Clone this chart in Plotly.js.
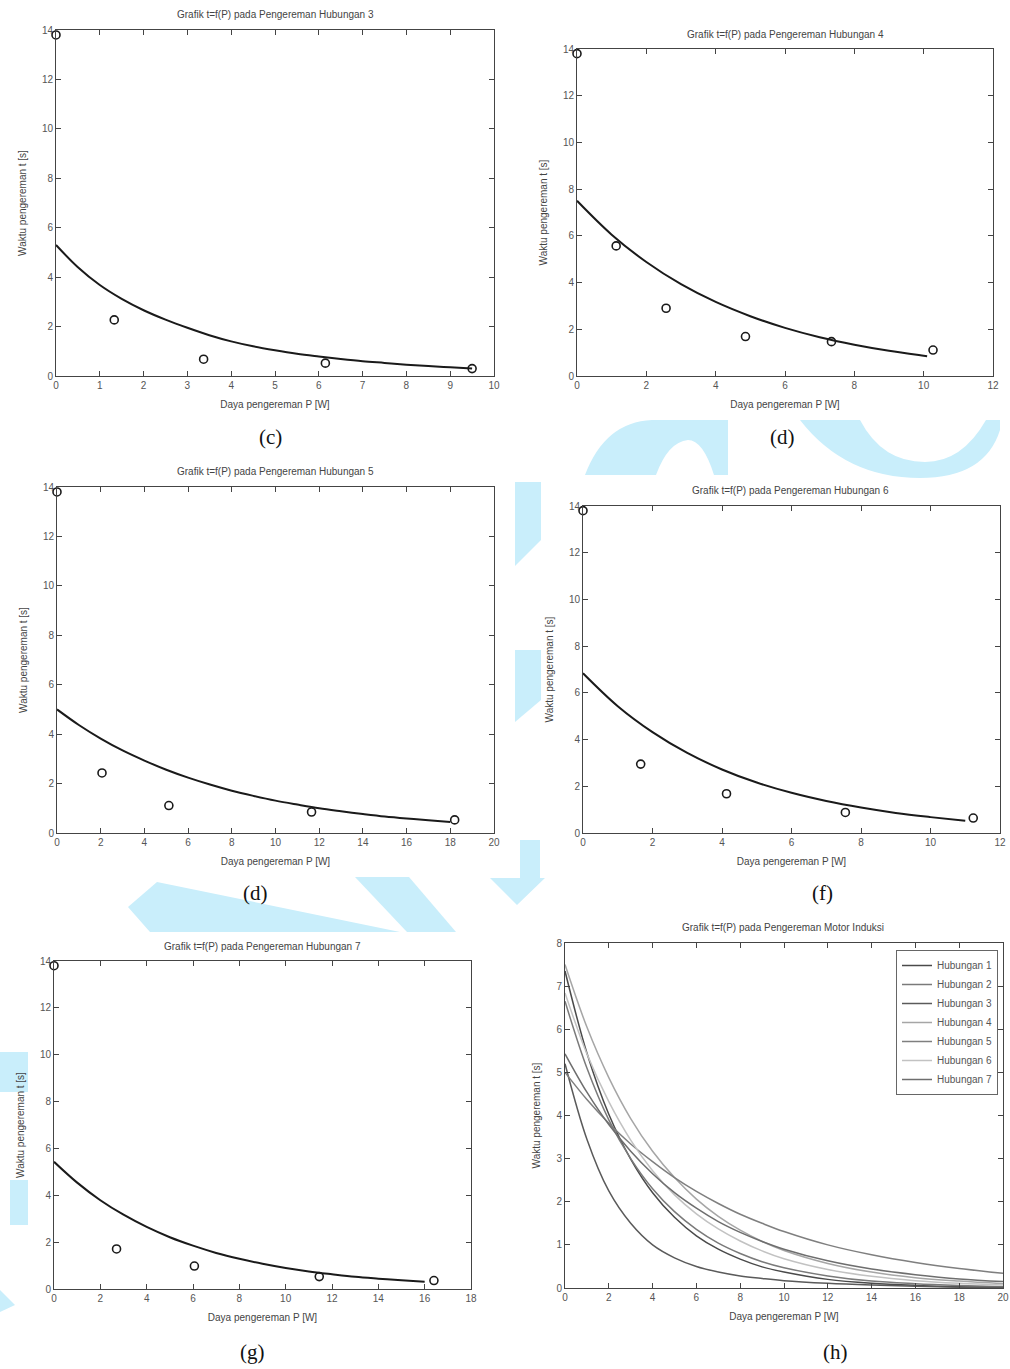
<!DOCTYPE html>
<html>
<head>
<meta charset="utf-8">
<script src="https://cdn.plot.ly/plotly-3.0.1.min.js"></script>
<style>html,body{margin:0;padding:0;background:#fff;}#chart{width:1010px;height:1369px;}</style>
</head>
<body>
<div id="chart"></div>
<script>
// ---------- DATA ----------
// (c) Hubungan 3
const meas_P3 = [0, 1.33, 3.37, 6.15, 9.5];
const meas_t3 = [13.8, 2.27, 0.68, 0.52, 0.3];
const fit_P3 = [0,0.5,1,1.5,2,2.5,3,3.5,4,4.5,5,5.5,6,6.5,7,7.5,8,8.5,9,9.5];
const fit_t3 = [5.3,4.4,3.68,3.12,2.66,2.28,1.95,1.65,1.4,1.2,1.04,0.9,0.79,0.69,0.6,0.53,0.46,0.4,0.35,0.3];
// (d) Hubungan 4
const meas_P4 = [0, 1.13, 2.57, 4.86, 7.34, 10.27];
const meas_t4 = [13.8, 5.57, 2.9, 1.69, 1.47, 1.11];
const fit_P4 = [0,1,2,3,4,5,6,7,8,9,10,10.1];
const fit_t4 = [7.5,6.05,4.88,3.93,3.17,2.56,2.06,1.66,1.34,1.08,0.87,0.85];
// (d) Hubungan 5
const meas_P5 = [0, 2.06, 5.12, 11.65, 18.2];
const meas_t5 = [13.8, 2.43, 1.11, 0.85, 0.53];
const fit_P5 = [0,1,2,3,4,5,6,7,8,9,10,11,12,13,14,15,16,17,18];
const fit_t5 = [5.0,4.37,3.82,3.34,2.93,2.56,2.24,1.96,1.71,1.5,1.31,1.15,1.0,0.88,0.77,0.67,0.59,0.52,0.45];
// (f) Hubungan 6
const meas_P6 = [0, 1.66, 4.13, 7.55, 11.23];
const meas_t6 = [13.8, 2.95, 1.68, 0.88, 0.64];
const fit_P6 = [0,1,2,3,4,5,6,7,8,9,10,11];
const fit_t6 = [6.84,5.43,4.32,3.43,2.72,2.16,1.72,1.37,1.09,0.86,0.68,0.52];
// (g) Hubungan 7
const meas_P7 = [0, 2.7, 6.06, 11.45, 16.4];
const meas_t7 = [13.8, 1.71, 0.98, 0.53, 0.36];
const fit_P7 = [0,1,2,3,4,5,6,7,8,9,10,11,12,13,14,15,16];
const fit_t7 = [5.43,4.54,3.79,3.17,2.65,2.21,1.85,1.54,1.29,1.08,0.9,0.75,0.63,0.52,0.44,0.37,0.31];
// (h) all connections
const h_P  = [0,1,2,3,4,5,6,7,8,9,10,12,14,16,18,20];
const h_t1 = [7.35,5.45,4.03,2.99,2.21,1.64,1.21,0.9,0.67,0.49,0.37,0.2,0.11,0.06,0.03,0.02];
const h_t2 = [6.65,5.1,3.9,3.0,2.3,1.77,1.36,1.04,0.8,0.61,0.47,0.28,0.16,0.1,0.06,0.03];
const h_t3 = [5.2,3.45,2.25,1.5,1.0,0.7,0.5,0.37,0.28,0.22,0.17,0.11,0.07,0.04,0.02,0.01];
const h_t4 = [7.5,6.05,4.88,3.93,3.17,2.56,2.06,1.66,1.34,1.08,0.87,0.57,0.37,0.24,0.16,0.1];
const h_t5 = [5.0,4.37,3.82,3.34,2.93,2.56,2.24,1.96,1.71,1.5,1.31,1.0,0.77,0.59,0.45,0.34];
const h_t6 = [6.84,5.43,4.32,3.43,2.72,2.16,1.72,1.37,1.09,0.86,0.68,0.43,0.27,0.17,0.11,0.07];
const h_t7 = [5.43,4.54,3.79,3.17,2.65,2.21,1.85,1.54,1.29,1.08,0.9,0.63,0.44,0.31,0.21,0.15];
const h_names = ['Hubungan 1','Hubungan 2','Hubungan 3','Hubungan 4','Hubungan 5','Hubungan 6','Hubungan 7'];

const titles = [
  'Grafik t=f(P) pada Pengereman Hubungan 3',
  'Grafik t=f(P) pada Pengereman Hubungan 4',
  'Grafik t=f(P) pada Pengereman Hubungan 5',
  'Grafik t=f(P) pada Pengereman Hubungan 6',
  'Grafik t=f(P) pada Pengereman Hubungan 7',
  'Grafik t=f(P) pada Pengereman Motor Induksi'
];
const captions = ['(c)','(d)','(d)','(f)','(g)','(h)'];
const xLabel = 'Daya pengereman P [W]';
const yLabel = 'Waktu pengereman t [s]';

// ---------- LAYOUT HELPERS ----------
const W = 1010, H = 1369;
const fx = x => x / W;
const fy = y => 1 - y / H;

// panel boxes in pixels [left, top, right, bottom]
const boxes = [
  [56, 30, 494, 376],
  [577, 49, 993, 376],
  [57, 487, 494, 833],
  [583, 506, 1000, 833],
  [54, 961, 471, 1289],
  [565, 943, 1003, 1288]
];
const xRanges = [[0,10],[0,12],[0,20],[0,12],[0,18],[0,20]];
const xDtick = [1,2,2,2,2,2];
const yRanges = [[0,14],[0,14],[0,14],[0,14],[0,14],[0,8]];
const yDtick = [2,2,2,2,2,1];
const titlePos = [[275,15],[785,35],[275,471],[790,491],[262,946],[783,927]];
const capPos = [[270,437],[782,437],[255,893],[822,893],[252,1352],[835,1352]];

const FONT = 'Liberation Sans, Arial, sans-serif';
const layout = {
  width: W, height: H,
  margin: {l:0, r:0, t:0, b:0},
  paper_bgcolor: '#ffffff',
  plot_bgcolor: '#ffffff',
  font: {family: FONT, size: 10, color: '#555'},
  showlegend: true,
  legend: {
    x: fx(998), xanchor: 'right', y: fy(950), yanchor: 'top',
    bgcolor: '#ffffff', bordercolor: '#666', borderwidth: 1,
    font: {family: FONT, size: 10, color: '#555'},
    tracegroupgap: 0, itemwidth: 30
  },
  annotations: [],
  shapes: []
};

boxes.forEach((b, i) => {
  const k = i === 0 ? '' : String(i + 1);
  const common = {
    showgrid: false, zeroline: false, showline: true, mirror: 'ticks',
    linecolor: '#444', linewidth: 1, ticks: 'inside', ticklen: 5, tickcolor: '#444',
    tickfont: {family: FONT, size: 10, color: '#555'}, fixedrange: true
  };
  layout['xaxis' + k] = Object.assign({}, common, {
    domain: [fx(b[0]), fx(b[2])], anchor: 'y' + k,
    range: xRanges[i], tick0: 0, dtick: xDtick[i],
    title: {text: xLabel, font: {family: FONT, size: 10, color: '#444'}, standoff: 10}
  });
  layout['yaxis' + k] = Object.assign({}, common, {
    domain: [fy(b[3]), fy(b[1])], anchor: 'x' + k,
    range: yRanges[i], tick0: 0, dtick: yDtick[i],
    title: {text: yLabel, font: {family: FONT, size: 10, color: '#444'}, standoff: 13}
  });
  layout.annotations.push({
    xref: 'paper', yref: 'paper', x: fx(titlePos[i][0]), y: fy(titlePos[i][1]),
    xanchor: 'center', yanchor: 'middle', showarrow: false,
    text: titles[i], font: {family: FONT, size: 10, color: '#444'}
  });
  layout.annotations.push({
    xref: 'paper', yref: 'paper', x: fx(capPos[i][0]), y: fy(capPos[i][1]),
    xanchor: 'center', yanchor: 'middle', showarrow: false,
    text: captions[i], font: {family: 'Liberation Serif, Times New Roman, serif', size: 21, color: '#111'}
  });
});

// background watermark (decorative, light cyan)
function pathStr(cmds) {
  return cmds.map(c => {
    if (c[0] === 'Z') return 'Z';
    const nums = [];
    for (let j = 1; j < c.length; j += 2) nums.push(fx(c[j]).toFixed(5) + ',' + fy(c[j+1]).toFixed(5));
    return c[0] + nums.join(' ');
  }).join(' ');
}
const WM = '#c9eefb';
const wmPaths = [
  [['M',585,475],['Q',605,422,652,420],['L',728,420],['L',728,475],['L',714,475],['Q',703,440,688,440],['Q',668,442,656,475],['Z']],
  [['M',800,420],['Q',845,478,920,478],['Q',985,478,1000,430],['L',1000,420],['L',986,420],['Q',962,462,925,462],['Q',882,462,860,420],['Z']],
  [['M',128,907],['L',157,882],['L',400,932],['L',150,932],['Z']],
  [['M',355,877],['L',409,877],['L',456,932],['L',407,932],['Z']],
  [['M',520,840],['L',540,840],['L',540,878],['L',545,878],['L',517,905],['L',490,878],['L',520,878],['Z']],
  [['M',515,482],['L',541,482],['L',541,540],['L',515,566],['Z']],
  [['M',515,650],['L',541,650],['L',541,700],['L',515,722],['Z']],
  [['M',0,1052],['L',28,1052],['L',28,1092],['L',0,1092],['Z']],
  [['M',10,1180],['L',28,1180],['L',28,1225],['L',10,1225],['Z']],
  [['M',0,1290],['L',15,1305],['L',0,1312],['Z']]
];
wmPaths.forEach(p => layout.shapes.push({
  type: 'path', xref: 'paper', yref: 'paper', path: pathStr(p),
  fillcolor: WM, line: {width: 0}, layer: 'below'
}));

// ---------- TRACES ----------
const traces = [];
const panels = [
  [meas_P3, meas_t3, fit_P3, fit_t3],
  [meas_P4, meas_t4, fit_P4, fit_t4],
  [meas_P5, meas_t5, fit_P5, fit_t5],
  [meas_P6, meas_t6, fit_P6, fit_t6],
  [meas_P7, meas_t7, fit_P7, fit_t7]
];
panels.forEach((p, i) => {
  const k = i === 0 ? '' : String(i + 1);
  traces.push({
    x: p[2], y: p[3], xaxis: 'x' + k, yaxis: 'y' + k, type: 'scatter', mode: 'lines',
    line: {color: '#1a1a1a', width: 2, shape: 'spline'}, showlegend: false, hoverinfo: 'skip'
  });
  traces.push({
    x: p[0], y: p[1], xaxis: 'x' + k, yaxis: 'y' + k, type: 'scatter', mode: 'markers',
    marker: {symbol: 'circle-open', size: 8, color: '#1a1a1a', line: {width: 1.6, color: '#1a1a1a'}},
    cliponaxis: false, showlegend: false
  });
});
const hSeries = [h_t1, h_t2, h_t3, h_t4, h_t5, h_t6, h_t7];
const hColors = ['#4a4a4a','#7a7a7a','#5a5a5a','#a6a6a6','#7f7f7f','#c2c2c2','#6e6e6e'];
hSeries.forEach((s, i) => {
  traces.push({
    x: h_P, y: s, xaxis: 'x6', yaxis: 'y6', type: 'scatter', mode: 'lines',
    name: h_names[i], line: {color: hColors[i], width: 1.5, shape: 'spline'}
  });
});

Plotly.newPlot('chart', traces, layout, {displayModeBar: false, staticPlot: true});
</script>
</body>
</html>
